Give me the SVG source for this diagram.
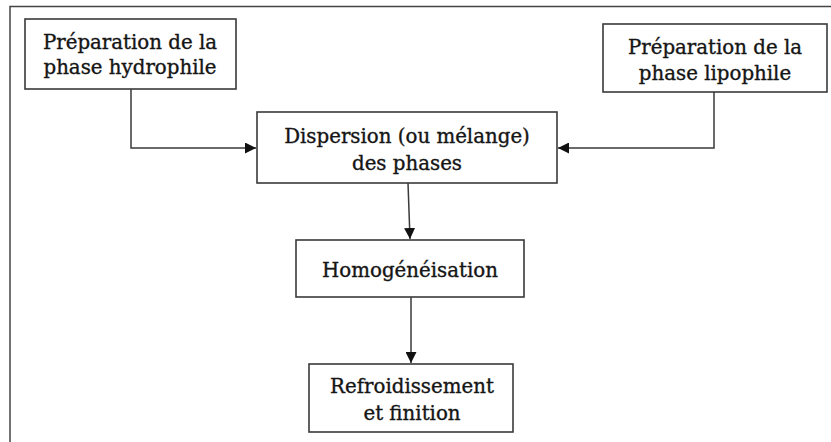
<svg xmlns="http://www.w3.org/2000/svg" width="831" height="442" viewBox="0 0 831 442">
<defs>
<style>
.box{fill:#fff;stroke:#3a3a3a;stroke-width:1.6}
.t{font-family:"DejaVu Serif","Liberation Serif",serif;font-size:19.8px;fill:#151515;stroke:#151515;stroke-width:0.35;text-anchor:middle}
.c{fill:none;stroke:#3a3a3a;stroke-width:1.5}
.frame{fill:none;stroke:#444;stroke-width:1.5}
</style>
<marker id="ah" viewBox="0 0 10 10" refX="10" refY="5" markerWidth="11" markerHeight="11" markerUnits="userSpaceOnUse" orient="auto">
<path d="M0,0 L10,5 L0,10 z" fill="#111"/>
</marker>
</defs>
<rect width="831" height="442" fill="#fff"/>
<path class="frame" d="M10,442 V6.5 H831"/>
<g id="connectors">
<path class="c" d="M131,89 V148 H256" marker-end="url(#ah)"/>
<path class="c" d="M714,92 V148 H558" marker-end="url(#ah)"/>
<path class="c" d="M408,183 L410,239" marker-end="url(#ah)"/>
<path class="c" d="M411,297 V363" marker-end="url(#ah)"/>
</g>
<g id="n1">
<rect class="box" x="25" y="19" width="211" height="70"/>
<text class="t" x="130" y="49">Préparation de la</text>
<text class="t" x="130" y="74">phase hydrophile</text>
</g>
<g id="n2">
<rect class="box" x="603" y="24" width="224" height="68"/>
<text class="t" x="715" y="54">Préparation de la</text>
<text class="t" x="715" y="80">phase lipophile</text>
</g>
<g id="n3">
<rect class="box" x="257" y="112" width="300" height="71"/>
<text class="t" x="407" y="143">Dispersion (ou mélange)</text>
<text class="t" x="407" y="170">des phases</text>
</g>
<g id="n4">
<rect class="box" x="296" y="240" width="228" height="57"/>
<text class="t" x="410" y="277">Homogénéisation</text>
</g>
<g id="n5">
<rect class="box" x="309" y="364" width="204" height="68"/>
<text class="t" x="412" y="393">Refroidissement</text>
<text class="t" x="412" y="420">et finition</text>
</g>
</svg>
